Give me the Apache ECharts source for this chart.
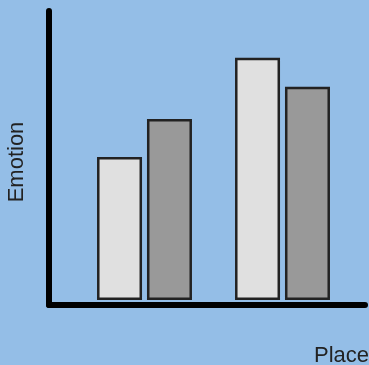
<!DOCTYPE html>
<html>
<head>
<meta charset="utf-8">
<script src="https://cdn.jsdelivr.net/npm/echarts@6/dist/echarts.min.js"></script>
<style>html,body{margin:0;padding:0;background:#94bee7;}#c{width:369px;height:365px;}</style>
</head>
<body>
<div id="c"></div>
<script>
var categories = ['Place A', 'Place B'];
var seriesLight = [49, 83];
var seriesDark = [62, 73];
var xName = 'Place';
var yName = 'Emotion';

var chart = echarts.init(document.getElementById('c'), null, {renderer: 'canvas'});
chart.setOption({
  backgroundColor: '#94bee7',
  animation: false,
  grid: [
    {left: 75.5, right: 17.5, top: 8, bottom: 65, containLabel: false, outerBoundsMode: 'none'},
    {left: 49, right: 4, top: 11, bottom: 60, containLabel: false, outerBoundsMode: 'none'}
  ],
  xAxis: [
    {type: 'category', gridIndex: 0, data: categories, boundaryGap: true,
     axisLine: {show: false}, axisTick: {show: false}, axisLabel: {show: false}, splitLine: {show: false}},
    {type: 'value', gridIndex: 1, min: 0, max: 1, name: xName, nameLocation: 'end', nameGap: 4,
     nameTextStyle: {fontFamily: 'Liberation Sans', fontSize: 22, color: '#222', align: 'right', verticalAlign: 'top', padding: [40, 0, 0, 0]},
     axisLine: {show: true, lineStyle: {color: '#000', width: 6, cap: 'round'}},
     axisTick: {show: false}, axisLabel: {show: false}, splitLine: {show: false}}
  ],
  yAxis: [
    {type: 'value', gridIndex: 0, min: 0, max: 100,
     axisLine: {show: false}, axisTick: {show: false}, axisLabel: {show: false}, splitLine: {show: false}},
    {type: 'value', gridIndex: 1, min: 0, max: 1, name: yName, nameLocation: 'middle', nameGap: 21,
     nameTextStyle: {fontFamily: 'Liberation Sans', fontSize: 22, color: '#222', padding: [0, 8, 0, 0]},
     axisLine: {show: true, lineStyle: {color: '#000', width: 6, cap: 'round'}},
     axisTick: {show: false}, axisLabel: {show: false}, splitLine: {show: false}}
  ],
  series: [
    {type: 'bar', xAxisIndex: 0, yAxisIndex: 0, data: seriesLight, barWidth: 45, barGap: '11%',
     itemStyle: {color: '#e0e0e0', borderColor: '#222', borderWidth: 2.5}},
    {type: 'bar', xAxisIndex: 0, yAxisIndex: 0, data: seriesDark, barWidth: 45, barGap: '11%',
     itemStyle: {color: '#999999', borderColor: '#222', borderWidth: 2.5}}
  ]
});
</script>
</body>
</html>
